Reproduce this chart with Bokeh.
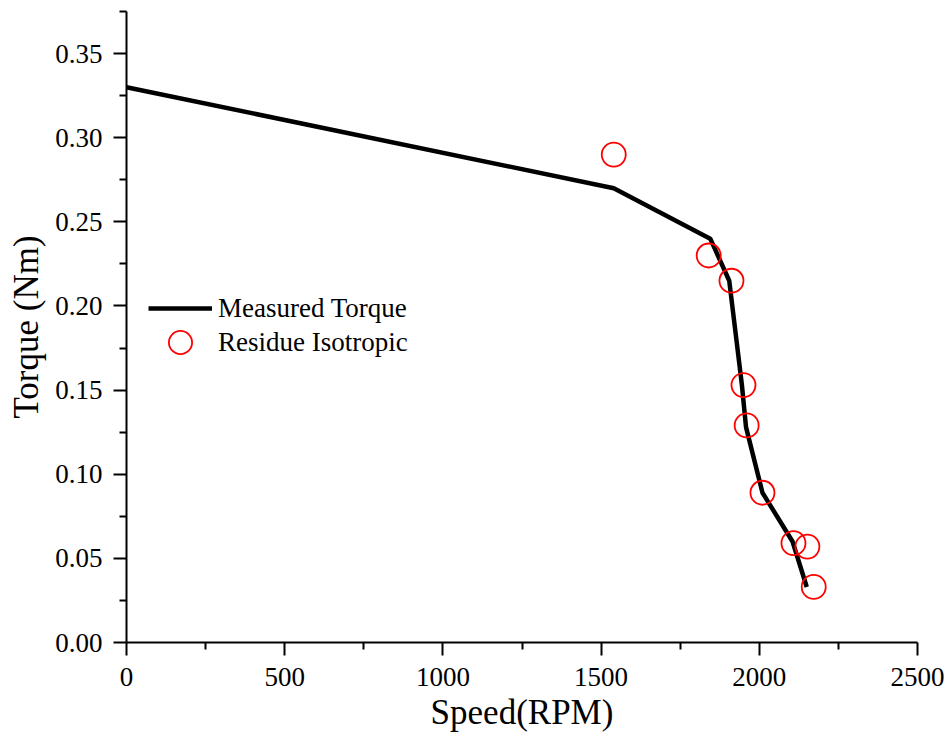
from bokeh.plotting import figure
from bokeh.models import Range1d, FixedTicker, NumeralTickFormatter, Legend, LegendItem
from bokeh.embed import file_html
from bokeh.resources import INLINE

# Measured torque curve
speed_line = [0, 1540, 1845, 1905, 1945, 1958, 2010, 2105, 2150]
torque_line = [0.330, 0.270, 0.240, 0.215, 0.153, 0.128, 0.089, 0.060, 0.033]

# Residue isotropic points
speed_pts = [1540, 1840, 1912, 1950, 1960, 2010, 2108, 2152, 2172]
torque_pts = [0.290, 0.230, 0.215, 0.153, 0.129, 0.089, 0.059, 0.057, 0.033]

x_ticks = [0, 500, 1000, 1500, 2000, 2500]
x_minor = [250, 750, 1250, 1750, 2250]
y_ticks = [0.00, 0.05, 0.10, 0.15, 0.20, 0.25, 0.30, 0.35]
y_minor = [0.025, 0.075, 0.125, 0.175, 0.225, 0.275, 0.325, 0.375]

FONT = "Liberation Serif"

p = figure(width=952, height=735, output_backend="svg", toolbar_location=None,
           x_range=Range1d(0, 2500), y_range=Range1d(0, 0.375),
           min_border_left=126, min_border_right=35, min_border_top=11, min_border_bottom=93)
p.outline_line_color = None
p.grid.visible = False
p.background_fill_color = "white"
p.border_fill_color = "white"

r_line = p.line(speed_line, torque_line, line_color="black", line_width=4.5)
r_pts = p.scatter(speed_pts, torque_pts, marker="circle", size=24,
                  fill_color=None, line_color="#ff0000", line_width=1.8)

for ax in (p.xaxis[0], p.yaxis[0]):
    ax.axis_line_width = 2
    ax.major_tick_line_width = 2
    ax.minor_tick_line_width = 2
    ax.major_tick_out = 13
    ax.major_tick_in = 0
    ax.minor_tick_out = 7
    ax.minor_tick_in = 0
    ax.major_label_text_font = FONT
    ax.major_label_text_font_size = "27px"
    ax.major_label_text_color = "black"
    ax.axis_label_text_font = FONT
    ax.axis_label_text_font_style = "normal"
    ax.axis_label_text_font_size = "35px"
    ax.axis_label_text_color = "black"

p.xaxis[0].ticker = FixedTicker(ticks=x_ticks, minor_ticks=x_minor)
p.yaxis[0].ticker = FixedTicker(ticks=y_ticks, minor_ticks=y_minor)
p.yaxis[0].formatter = NumeralTickFormatter(format="0.00")
p.xaxis[0].axis_label = "Speed(RPM)"
p.yaxis[0].axis_label = "Torque (Nm)"
p.xaxis[0].major_label_standoff = 12
p.xaxis[0].axis_label_standoff = 4
p.yaxis[0].major_label_standoff = 11
p.yaxis[0].axis_label_standoff = 6

common = dict(glyph_width=64, label_height=34, spacing=0, padding=0, margin=0,
              label_standoff=6, label_text_font=FONT, label_text_font_size="27px",
              label_text_color="black", border_line_color=None, background_fill_alpha=0)

legend_line = Legend(items=[LegendItem(label="Measured Torque", renderers=[r_line])],
                     location=(22, 317), glyph_height=34, **common)
legend_pts = Legend(items=[LegendItem(label="Residue Isotropic", renderers=[r_pts])],
                    location=(22, 271), glyph_height=58, **common)
p.add_layout(legend_line)
p.add_layout(legend_pts)

open("out.html", "w").write(file_html(p, INLINE))
